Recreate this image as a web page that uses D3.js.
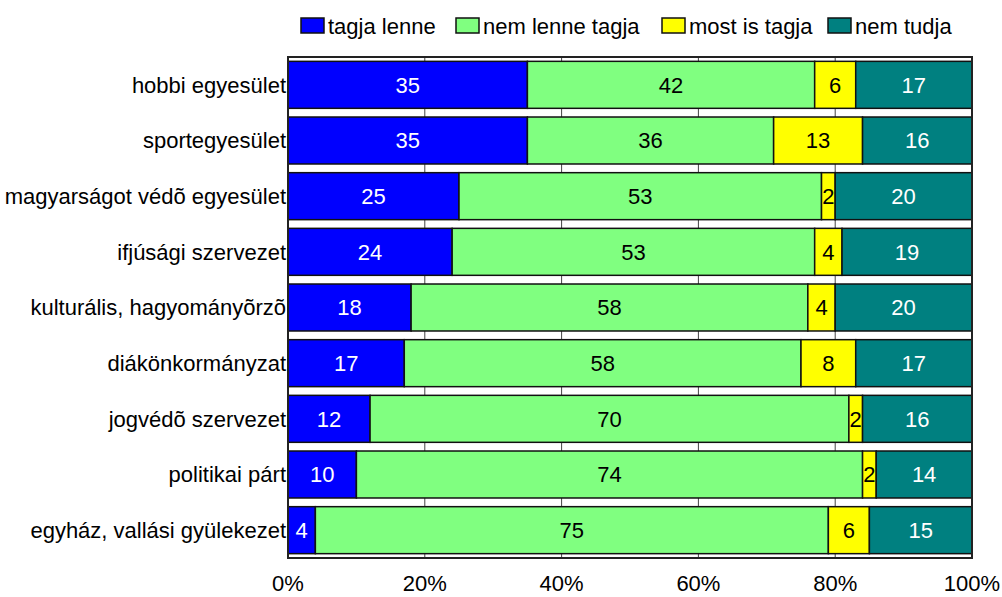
<!DOCTYPE html>
<html lang="hu">
<head>
  <meta charset="UTF-8">
  <title>Egyesületi tagság</title>
  <script src="https://d3js.org/d3.v7.min.js"></script>
  <style>
    body { margin: 0; background: #fff; font-family: "Liberation Sans", Arial, sans-serif; }
    text { font-family: "Liberation Sans", Arial, sans-serif; }
  </style>
</head>
<body>
  <div id="chart"></div>
  <script>
    // data (percent)
    const categories = [
      "hobbi egyesület", "sportegyesület", "magyarságot védõ egyesület",
      "ifjúsági szervezet", "kulturális, hagyományõrzõ", "diákönkormányzat",
      "jogvédõ szervezet", "politikai párt", "egyház, vallási gyülekezet"
    ];
    const seriesNames = ["tagja lenne", "nem lenne tagja", "most is tagja", "nem tudja"];
    const tagjaLenne    = [35, 35, 25, 24, 18, 17, 12, 10, 4];
    const nemLenneTagja = [42, 36, 53, 53, 58, 58, 70, 74, 75];
    const mostIsTagja   = [6, 13, 2, 4, 4, 8, 2, 2, 6];
    const nemTudja      = [17, 16, 20, 19, 20, 17, 16, 14, 15];
    const xTicks = [0, 20, 40, 60, 80, 100];

    const colors = ["#0000ff", "#80ff80", "#ffff00", "#008080"];
    const labelColors = ["#fff", "#000", "#000", "#fff"];

    const W = 1002, H = 597;
    const plot = {left: 288, right: 972, top: 57, bottom: 558};
    const fs = 22;

    const svg = d3.select("#chart").append("svg")
      .attr("width", W).attr("height", H);

    const rows = categories.map((c, i) => ({
      cat: c,
      values: [tagjaLenne[i], nemLenneTagja[i], mostIsTagja[i], nemTudja[i]]
    }));

    const x = d3.scaleLinear().domain([0, 100]).range([plot.left, plot.right]);
    const y = d3.scaleBand().domain(categories)
      .range([plot.top, plot.bottom])
      .paddingInner(0.156).paddingOuter(0.078);

    // gridlines (only visible between the bars)
    svg.append("g").selectAll("line")
      .data(xTicks.slice(1, -1))
      .join("line")
      .attr("x1", d => x(d)).attr("x2", d => x(d))
      .attr("y1", plot.top).attr("y2", plot.bottom)
      .attr("stroke", "#444").attr("stroke-width", 1);

    // stacked segments
    const stack = d3.stack().keys([0, 1, 2, 3]).value((d, k) => d.values[k]);
    const layers = stack(rows);

    const g = svg.append("g");
    layers.forEach((layer, k) => {
      const lg = g.append("g");
      lg.selectAll("rect")
        .data(layer)
        .join("rect")
        .attr("x", d => x(d[0]))
        .attr("y", d => y(d.data.cat))
        .attr("width", d => x(d[1]) - x(d[0]))
        .attr("height", y.bandwidth())
        .attr("fill", colors[k])
        .attr("stroke", "#111")
        .attr("stroke-width", 1.5);
      lg.selectAll("text")
        .data(layer)
        .join("text")
        .attr("x", d => x((d[0] + d[1]) / 2))
        .attr("y", d => y(d.data.cat) + y.bandwidth() / 2)
        .attr("dy", "0.36em")
        .attr("text-anchor", "middle")
        .attr("font-size", fs)
        .attr("fill", labelColors[k])
        .text(d => d.data.values[k]);
    });

    // plot frame
    svg.append("rect")
      .attr("x", plot.left).attr("y", plot.top)
      .attr("width", plot.right - plot.left).attr("height", plot.bottom - plot.top)
      .attr("fill", "none").attr("stroke", "#222").attr("stroke-width", 2);

    // category labels
    svg.append("g").selectAll("text")
      .data(categories)
      .join("text")
      .attr("x", plot.left - 2)
      .attr("y", d => y(d) + y.bandwidth() / 2)
      .attr("dy", "0.36em")
      .attr("text-anchor", "end")
      .attr("font-size", fs)
      .attr("fill", "#000")
      .text(d => d);

    // x axis labels
    svg.append("g").selectAll("text")
      .data(xTicks)
      .join("text")
      .attr("x", d => x(d))
      .attr("y", 591)
      .attr("text-anchor", "middle")
      .attr("font-size", fs)
      .text(d => d + "%");

    // legend
    const legendX = [301, 456, 662, 828];
    const leg = svg.append("g").selectAll("g")
      .data(seriesNames)
      .join("g")
      .attr("transform", (d, i) => `translate(${legendX[i]}, 18)`);
    leg.append("rect")
      .attr("width", 23).attr("height", 15)
      .attr("fill", (d, i) => colors[i])
      .attr("stroke", "#111").attr("stroke-width", 1.5);
    leg.append("text")
      .attr("x", 27).attr("y", 8).attr("dy", "0.36em")
      .attr("font-size", fs)
      .text(d => d);
  </script>
</body>
</html>
